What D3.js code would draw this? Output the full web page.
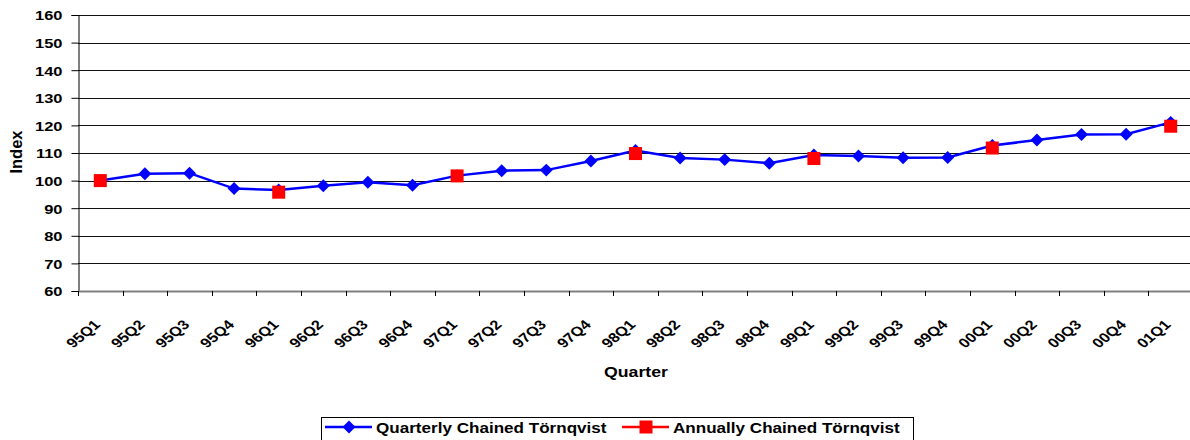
<!DOCTYPE html>
<html>
<head>
<meta charset="utf-8">
<script src="https://cdn.jsdelivr.net/npm/d3@7"></script>
<style>
  html, body { margin: 0; padding: 0; background: #fff; }
  svg { display: block; font-family: "Liberation Sans", Arial, sans-serif; font-weight: bold; }
</style>
</head>
<body>
<svg id="chart" width="1190" height="440"></svg>
<script>
// Quarter labels along the x axis
const quarters = ["95Q1","95Q2","95Q3","95Q4","96Q1","96Q2","96Q3","96Q4",
  "97Q1","97Q2","97Q3","97Q4","98Q1","98Q2","98Q3","98Q4",
  "99Q1","99Q2","99Q3","99Q4","00Q1","00Q2","00Q3","00Q4","01Q1"];

// Quarterly chained Törnqvist index, one value per quarter
const quarterlyValues = [100, 102.5, 102.7, 97.1, 96.6, 98.1, 99.4, 98.3,
  101.8, 103.6, 103.8, 107.1, 110.9, 108.2, 107.6, 106.3,
  109.3, 108.9, 108.3, 108.4, 112.7, 114.7, 116.7, 116.8, 121.1];

// Annually chained Törnqvist index, first quarter of each year
const annualQuarters = ["95Q1","96Q1","97Q1","98Q1","99Q1","00Q1","01Q1"];
const annualValues = [100, 95.8, 101.7, 109.8, 108.0, 111.8, 119.7];

// Y axis tick values
const yTicks = [60, 70, 80, 90, 100, 110, 120, 130, 140, 150, 160];

const seriesNames = ["Quarterly Chained Törnqvist", "Annually Chained Törnqvist"];

const svg = d3.select("#chart");
const plotLeft = 78, plotRight = 1193, plotTop = 15, plotBottom = 291;
const FONT = "Liberation Sans, Arial, sans-serif";
const SX = 1.22;   // wide lettering

const x = d3.scaleBand().domain(quarters).range([plotLeft, plotRight]).padding(0);
const y = d3.scaleLinear().domain([60, 160]).range([plotBottom, plotTop]);

// Horizontal gridlines
svg.append("g").selectAll("line").data(yTicks.filter(v => v > 60)).join("line")
  .attr("x1", plotLeft).attr("x2", plotRight)
  .attr("y1", d => Math.round(y(d)) + 0.5).attr("y2", d => Math.round(y(d)) + 0.5)
  .attr("stroke", "#111").attr("stroke-width", 1);

// Y axis
const yAxis = d3.axisLeft(y).tickValues(yTicks).tickSize(7).tickPadding(0);
const gy = svg.append("g").attr("transform", `translate(${plotLeft + 0.5},0)`).call(yAxis);
gy.select(".domain").attr("stroke", "#000");
gy.selectAll(".tick line").attr("stroke", "#000");
gy.selectAll(".tick text")
  .attr("font-size", 13.5).attr("font-weight", "bold").attr("fill", "#000")
  .attr("font-family", FONT).attr("x", 0).attr("dy", "0.36em")
  .attr("transform", `translate(-16,0) scale(${SX},1)`);

// X axis baseline and ticks at category boundaries
svg.append("line").attr("x1", plotLeft).attr("x2", plotRight)
  .attr("y1", plotBottom + 0.5).attr("y2", plotBottom + 0.5)
  .attr("stroke", "#808080").attr("stroke-width", 2);
const boundaries = quarters.map(q => x(q)).concat([plotRight]);
svg.append("g").selectAll("line").data(boundaries).join("line")
  .attr("x1", d => Math.round(d) + 0.5).attr("x2", d => Math.round(d) + 0.5)
  .attr("y1", plotBottom).attr("y2", plotBottom + 5)
  .attr("stroke", "#000").attr("stroke-width", 1);

// X tick labels, rotated
const xAxis = d3.axisBottom(x).tickSize(0).tickPadding(0);
const gx = svg.append("g").attr("transform", `translate(0,${plotBottom})`).call(xAxis);
gx.select(".domain").remove();
gx.selectAll(".tick text")
  .attr("font-size", 13.4).attr("font-weight", "bold").attr("fill", "#000")
  .attr("font-family", FONT)
  .attr("text-anchor", "end").attr("dy", null).attr("y", null)
  .attr("transform", `translate(1,34.5) scale(${SX},1) rotate(-45)`);

// Axis titles
svg.append("text").attr("transform", `translate(636,377) scale(${SX},1)`)
  .attr("text-anchor", "middle").attr("font-size", 14.5).text("Quarter");
svg.append("text").attr("transform", `translate(22,152) rotate(-90)`)
  .attr("text-anchor", "middle").attr("font-size", 16.5).text("Index");

// Quarterly series: line with diamond markers
const cx = d => x(d) + x.bandwidth() / 2;
const line = d3.line().x(d => cx(d[0])).y(d => y(d[1]));
const qData = quarters.map((q, i) => [q, quarterlyValues[i]]);
svg.append("path").datum(qData).attr("d", line)
  .attr("fill", "none").attr("stroke", "#0000ff").attr("stroke-width", 2.5);

const diamond = d3.symbol().type(d3.symbolSquare).size(84);
svg.append("g").selectAll("path").data(qData).join("path")
  .attr("d", diamond)
  .attr("transform", d => `translate(${cx(d[0])},${y(d[1])}) rotate(45)`)
  .attr("fill", "#0000ff");

// Annual series: square markers only
const aData = annualQuarters.map((q, i) => [q, annualValues[i]]);
svg.append("g").selectAll("rect").data(aData).join("rect")
  .attr("x", d => cx(d[0]) - 6.5).attr("y", d => y(d[1]) - 6.5)
  .attr("width", 13).attr("height", 13)
  .attr("fill", "#ff0000");

// Legend
const lg = svg.append("g");
lg.append("rect").attr("x", 321.5).attr("y", 417.5).attr("width", 592).attr("height", 26)
  .attr("fill", "#fff").attr("stroke", "#000").attr("stroke-width", 1);
const ly = 427;
lg.append("line").attr("x1", 325).attr("x2", 372).attr("y1", ly).attr("y2", ly)
  .attr("stroke", "#0000ff").attr("stroke-width", 2.5);
lg.append("path").attr("d", diamond)
  .attr("transform", `translate(349,${ly}) rotate(45)`).attr("fill", "#0000ff");
lg.append("text").attr("transform", `translate(376,${ly + 5.5}) scale(${SX},1)`)
  .attr("font-size", 14).text(seriesNames[0]);
lg.append("line").attr("x1", 622).attr("x2", 669).attr("y1", ly).attr("y2", ly)
  .attr("stroke", "#ff0000").attr("stroke-width", 2.5);
lg.append("rect").attr("x", 646 - 6.5).attr("y", ly - 6.5).attr("width", 13).attr("height", 13)
  .attr("fill", "#ff0000");
lg.append("text").attr("transform", `translate(673,${ly + 5.5}) scale(${SX},1)`)
  .attr("font-size", 14).text(seriesNames[1]);
</script>
</body>
</html>
